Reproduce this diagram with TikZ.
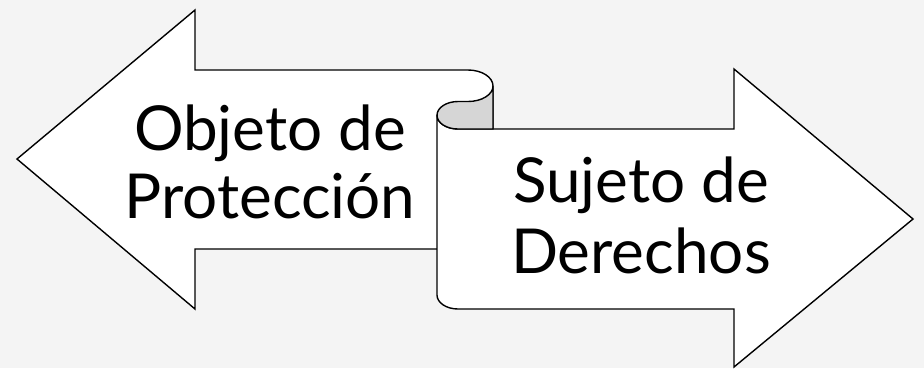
\documentclass[tikz,border=0pt]{standalone}
\usepackage{fontspec}
\setmainfont{Lato}
\definecolor{bgc}{HTML}{F4F4F4}
\definecolor{foldc}{HTML}{D6D6D6}
\tikzset{
  shapeline/.style={draw=black, line width=1.4pt, line join=miter},
  lbl/.style={anchor=base, inner sep=0pt, font=\fontsize{62}{70}\selectfont, text=black}
}
\begin{document}
\begin{tikzpicture}[x=1pt,y=-1pt]
\fill[bgc] (0,0) rectangle (924,368);
\useasboundingbox (0,0) rectangle (924,368);
% left arrow
\path[shapeline, fill=white] (17,159) -- (195,10) -- (195,70) -- (468,70)
  arc[start angle=90, end angle=0, x radius=25, y radius=-16] -- (493,249)
  -- (195,249) -- (195,309) -- cycle;
% right arrow (scroll)
\path[shapeline, fill=white] (458,129) -- (734,129) -- (734,69) -- (913,219)
  -- (734,367) -- (734,309) -- (458,309)
  arc[start angle=270, end angle=180, x radius=21, y radius=-14] -- (437,115)
  arc[start angle=180, end angle=270, x radius=21, y radius=-14] -- cycle;
% fold
\path[shapeline, fill=foldc] (493,86)
  arc[start angle=0, end angle=-90, x radius=25, y radius=-15.5] -- (458,101.5)
  arc[start angle=90, end angle=270, x radius=21, y radius=-13.75] -- (493,129) -- cycle;
% texts
\node[lbl] (obj1) at (270,150) {Objeto de};
\node[lbl] (obj2) at (270,218) {Protección};
\node[lbl] (suj1) at (641,202) {Sujeto de};
\node[lbl] (suj2) at (641,273) {Derechos};
\end{tikzpicture}
\end{document}
